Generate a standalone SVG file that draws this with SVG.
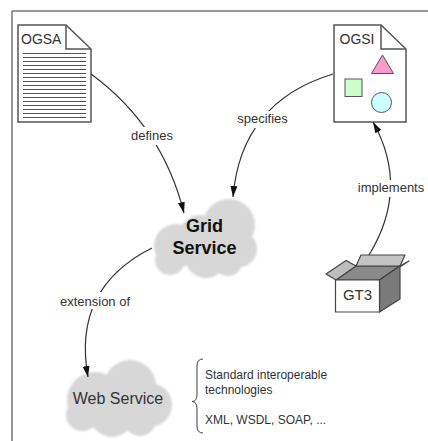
<svg xmlns="http://www.w3.org/2000/svg" width="428" height="441" viewBox="0 0 428 441">
<style>
.doc{fill:#fff;stroke:#555;stroke-width:1.5;stroke-linejoin:miter}
.fold{fill:none;stroke:#555;stroke-width:1.5}
.rule{stroke:#555;stroke-width:1}
.conn{fill:none;stroke:#333;stroke-width:1.2}
.lbl{font-family:"Liberation Sans",Arial,sans-serif;font-size:13px;fill:#333;text-anchor:middle}
.note{font-family:"Liberation Sans",Arial,sans-serif;font-size:12px;fill:#333}
.cloud{fill:#d7d7d7}
.box{stroke:#444;stroke-width:1.2;stroke-linejoin:round}
</style>
<defs>
<marker id="arr" markerUnits="userSpaceOnUse" markerWidth="12" markerHeight="8" refX="11" refY="3.5" orient="auto">
<path d="M0,0 L11,3.5 L0,7 Z" fill="#111"/>
</marker>
<filter id="soft" x="-10%" y="-10%" width="120%" height="120%">
<feGaussianBlur stdDeviation="1.2"/>
</filter>
</defs>
<rect width="428" height="441" fill="#fff"/>
<path d="M12,441 V11 H428" fill="none" stroke="#333" stroke-width="1"/>

<g id="ogsa">
<path class="doc" d="M18,25 H66 L91,49 V122 H18 Z"/>
<path class="fold" d="M66,25 V49 H91"/>
<g class="rule">
<line x1="23" y1="53.5" x2="86" y2="53.5"/>
<line x1="23" y1="57.5" x2="86" y2="57.5"/>
<line x1="23" y1="61.5" x2="86" y2="61.5"/>
<line x1="23" y1="65.5" x2="86" y2="65.5"/>
<line x1="23" y1="69.5" x2="86" y2="69.5"/>
<line x1="23" y1="73.5" x2="86" y2="73.5"/>
<line x1="23" y1="77.5" x2="86" y2="77.5"/>
<line x1="23" y1="81.5" x2="86" y2="81.5"/>
<line x1="23" y1="85.5" x2="86" y2="85.5"/>
<line x1="23" y1="89.5" x2="86" y2="89.5"/>
<line x1="23" y1="93.5" x2="86" y2="93.5"/>
<line x1="23" y1="97.5" x2="86" y2="97.5"/>
<line x1="23" y1="101.5" x2="86" y2="101.5"/>
<line x1="23" y1="105.5" x2="86" y2="105.5"/>
<line x1="23" y1="109.5" x2="86" y2="109.5"/>
<line x1="23" y1="113.5" x2="86" y2="113.5"/>
<line x1="23" y1="117.5" x2="86" y2="117.5"/>
</g>
<text x="21" y="44" font-family="Liberation Sans, Arial, sans-serif" font-size="14" fill="#333">OGSA</text>
</g>

<g id="ogsi">
<path class="doc" d="M334,25 H381 L406,49 V122 H334 Z"/>
<path class="fold" d="M381,25 V49 H406"/>
<text x="339.5" y="44" font-family="Liberation Sans, Arial, sans-serif" font-size="14" fill="#333">OGSI</text>
<polygon points="382.5,55 371.5,73.5 393.5,73.5" fill="#ff99cc" stroke="#555" stroke-width="1"/>
<rect x="345" y="79" width="17" height="17.5" fill="#ccffcc" stroke="#555" stroke-width="1"/>
<circle cx="381.5" cy="102.5" r="10" fill="#ccffff" stroke="#555" stroke-width="1"/>
</g>

<g id="grid-service">
<g class="cloud" filter="url(#soft)">
<circle cx="176" cy="246" r="22"/>
<circle cx="200" cy="236" r="21"/>
<circle cx="229" cy="225" r="26"/>
<circle cx="239" cy="249" r="18"/>
<circle cx="206" cy="257" r="21"/>
<circle cx="170" cy="260" r="15"/>
<circle cx="228" cy="262" r="14"/>
</g>
<text x="204.5" y="231.5" font-family="Liberation Sans, Arial, sans-serif" font-size="18" font-weight="bold" fill="#111" text-anchor="middle">Grid</text>
<text x="204.5" y="254" font-family="Liberation Sans, Arial, sans-serif" font-size="18" font-weight="bold" fill="#111" text-anchor="middle">Service</text>
</g>

<g id="web-service">
<g class="cloud" filter="url(#soft)">
<circle cx="95" cy="400" r="28"/>
<circle cx="130" cy="386" r="26"/>
<circle cx="150" cy="405" r="22"/>
<circle cx="112" cy="415" r="22"/>
<circle cx="140" cy="420" r="16"/>
<circle cx="82" cy="415" r="16"/>
</g>
<text x="118" y="404" font-family="Liberation Sans, Arial, sans-serif" font-size="16" fill="#333" text-anchor="middle">Web Service</text>
</g>

<g id="gt3">
<polygon class="box" points="356,266 400,266 379.5,280 336,280" fill="#8a8a8a"/>
<polygon class="box" points="356,266 400,266 405,255 361,255" fill="#c4c4c4"/>
<polygon class="box" points="336,280 356,266 346,260.5 326,274" fill="#bdbdbd"/>
<polygon class="box" points="379.5,280 400,266 409,261 389,274" fill="#b0b0b0"/>
<polygon class="box" points="379.5,280 400,266 400,299 379.5,312" fill="#7a7a7a"/>
<rect class="box" x="335.5" y="280" width="44" height="32" fill="#fff"/>
<text x="357.5" y="300" font-family="Liberation Sans, Arial, sans-serif" font-size="15" fill="#333" text-anchor="middle">GT3</text>
</g>

<g id="standards">
<path d="M203,359 Q197,359 197,366 L197,394 Q197,401.5 192,401.5 Q197,401.5 197,409 L197,426 Q197,433 203,433" fill="none" stroke="#444" stroke-width="1"/>
<text class="note" x="205" y="379">Standard interoperable</text>
<text class="note" x="205" y="394">technologies</text>
<text class="note" x="205" y="424">XML, WSDL, SOAP, ...</text>
</g>

<g id="connectors">
<path class="conn" d="M91,74 Q162,126 184,213" marker-end="url(#arr)"/>
<path class="conn" d="M333,74 Q241,102 233,197" marker-end="url(#arr)"/>
<path class="conn" d="M369,255 Q410,188 373,122" marker-end="url(#arr)"/>
<path class="conn" d="M152,248 Q72,288 88,377" marker-end="url(#arr)"/>
<rect x="129" y="127" width="46" height="18" fill="#fff"/>
<rect x="235" y="111" width="55" height="17" fill="#fff"/>
<rect x="356" y="180" width="71" height="17" fill="#fff"/>
<rect x="57" y="292" width="77" height="17" fill="#fff"/>
<text class="lbl" x="152" y="139.5">defines</text>
<text class="lbl" x="262.5" y="123">specifies</text>
<text class="lbl" x="391" y="192">implements</text>
<text class="lbl" x="95" y="305.5">extension of</text>
</g>
</svg>
